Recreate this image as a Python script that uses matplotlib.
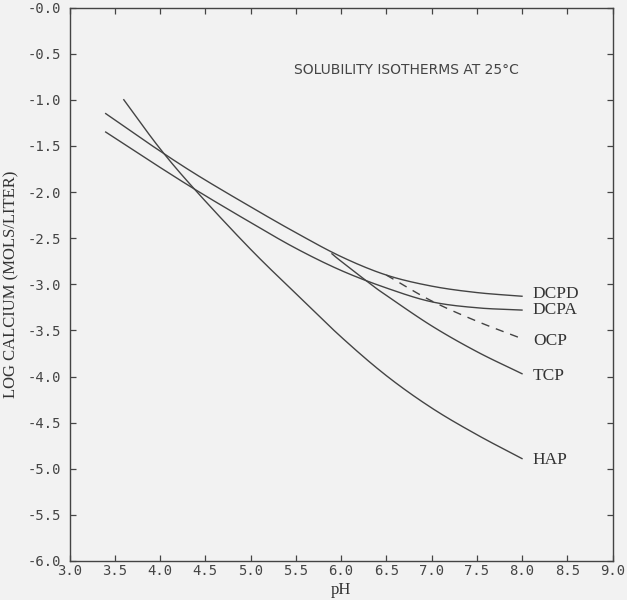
import matplotlib
matplotlib.use("Agg")
import matplotlib.pyplot as plt
import numpy as np

# solubility isotherms (pH, log Ca)
dcpd_ph = [3.4, 3.9, 4.4, 5.0, 5.5, 6.0, 6.5, 7.0, 7.5, 8.0]
dcpd_ca = [-1.15, -1.49, -1.81, -2.16, -2.44, -2.70, -2.90, -3.02, -3.09, -3.13]

dcpa_ph = [3.4, 3.9, 4.4, 5.0, 5.5, 6.0, 6.5, 7.0, 7.5, 8.0]
dcpa_ca = [-1.35, -1.67, -1.98, -2.33, -2.61, -2.85, -3.04, -3.19, -3.255, -3.28]

hap_ph = [3.6, 4.0, 4.4, 5.0, 5.5, 6.0, 6.5, 7.0, 7.5, 8.0]
hap_ca = [-1.0, -1.53, -1.99, -2.62, -3.10, -3.57, -3.99, -4.34, -4.63, -4.89]

tcp_ph = [5.9, 6.0, 6.33, 6.5, 7.0, 7.5, 8.0]
tcp_ca = [-2.67, -2.75, -3.0, -3.12, -3.45, -3.73, -3.97]

ocp_ph = [6.5, 7.0, 7.5, 8.0]
ocp_ca = [-2.90, -3.18, -3.40, -3.59]

xticks = [3.0, 3.5, 4.0, 4.5, 5.0, 5.5, 6.0, 6.5, 7.0, 7.5, 8.0, 8.5, 9.0]
xlabels = ["3.0", "3.5", "4.0", "4.5", "5.0", "5.5", "6.0", "6.5", "7.0", "7.5", "8.0", "8.5", "9.0"]
yticks = [0.0, -0.5, -1.0, -1.5, -2.0, -2.5, -3.0, -3.5, -4.0, -4.5, -5.0, -5.5, -6.0]
ylabels = ["-0.0", "-0.5", "-1.0", "-1.5", "-2.0", "-2.5", "-3.0", "-3.5", "-4.0", "-4.5", "-5.0", "-5.5", "-6.0"]

bg = "#f2f2f2"
ink = "#444444"

fig = plt.figure(figsize=(6.27, 6.0), dpi=100, facecolor=bg)
ax = fig.add_axes([69.5 / 627, 1 - 561 / 600, 543 / 627, 553.5 / 600], facecolor=bg)

def smooth(xs, ys, n=20):
    # catmull-rom through the read points
    p = np.column_stack([xs, ys]).astype(float)
    p = np.vstack([2 * p[0] - p[1], p, 2 * p[-1] - p[-2]])
    out = []
    t = np.linspace(0, 1, n, endpoint=False)[:, None]
    for i in range(1, len(p) - 2):
        p0, p1, p2, p3 = p[i - 1], p[i], p[i + 1], p[i + 2]
        seg = 0.5 * (2 * p1 + (-p0 + p2) * t + (2 * p0 - 5 * p1 + 4 * p2 - p3) * t ** 2
                     + (-p0 + 3 * p1 - 3 * p2 + p3) * t ** 3)
        out.append(seg)
    out.append(p[-2][None, :])
    out = np.vstack(out)
    return out[:, 0], out[:, 1]

for xs, ys in [(dcpd_ph, dcpd_ca), (dcpa_ph, dcpa_ca), (hap_ph, hap_ca), (tcp_ph, tcp_ca)]:
    xx, yy = smooth(xs, ys)
    ax.plot(xx, yy, color=ink, lw=1.0)

xx, yy = smooth(ocp_ph, ocp_ca)
ax.plot(xx, yy, color=ink, lw=1.0, dashes=(6, 5))

serif = "Liberation Serif"
labels = [("DCPD", -3.11), ("DCPA", -3.28), ("OCP", -3.61), ("TCP", -3.99), ("HAP", -4.90)]
for name, yv in labels:
    ax.text(8.12, yv, name, fontsize=12.5, family=serif, color="#333333", va="center", ha="left")

ax.text(5.48, -0.68, "SOLUBILITY ISOTHERMS AT 25°C", fontsize=10, family="DejaVu Sans",
        color="#444444", ha="left", va="center")

ax.set_xlim(3.0, 9.0)
ax.set_ylim(-6.0, 0.0)
ax.set_xticks(xticks)
ax.set_xticklabels(xlabels, family="DejaVu Sans Mono", fontsize=10, color="#444444")
ax.set_yticks(yticks)
ax.set_yticklabels(ylabels, family="DejaVu Sans Mono", fontsize=10, color="#444444")
ax.tick_params(direction="in", top=True, right=True, length=4, width=0.9, color=ink)
ax.tick_params(axis="x", pad=2)
ax.tick_params(axis="y", pad=6)
for s in ax.spines.values():
    s.set_color(ink)
    s.set_linewidth(1.0)

ax.set_xlabel("pH", family=serif, fontsize=12, color="#333333", labelpad=3)
ax.set_ylabel("LOG CALCIUM (MOLS/LITER)", family=serif, fontsize=12, color="#333333", labelpad=6)

fig.savefig("out.png", dpi=100, facecolor=bg)
